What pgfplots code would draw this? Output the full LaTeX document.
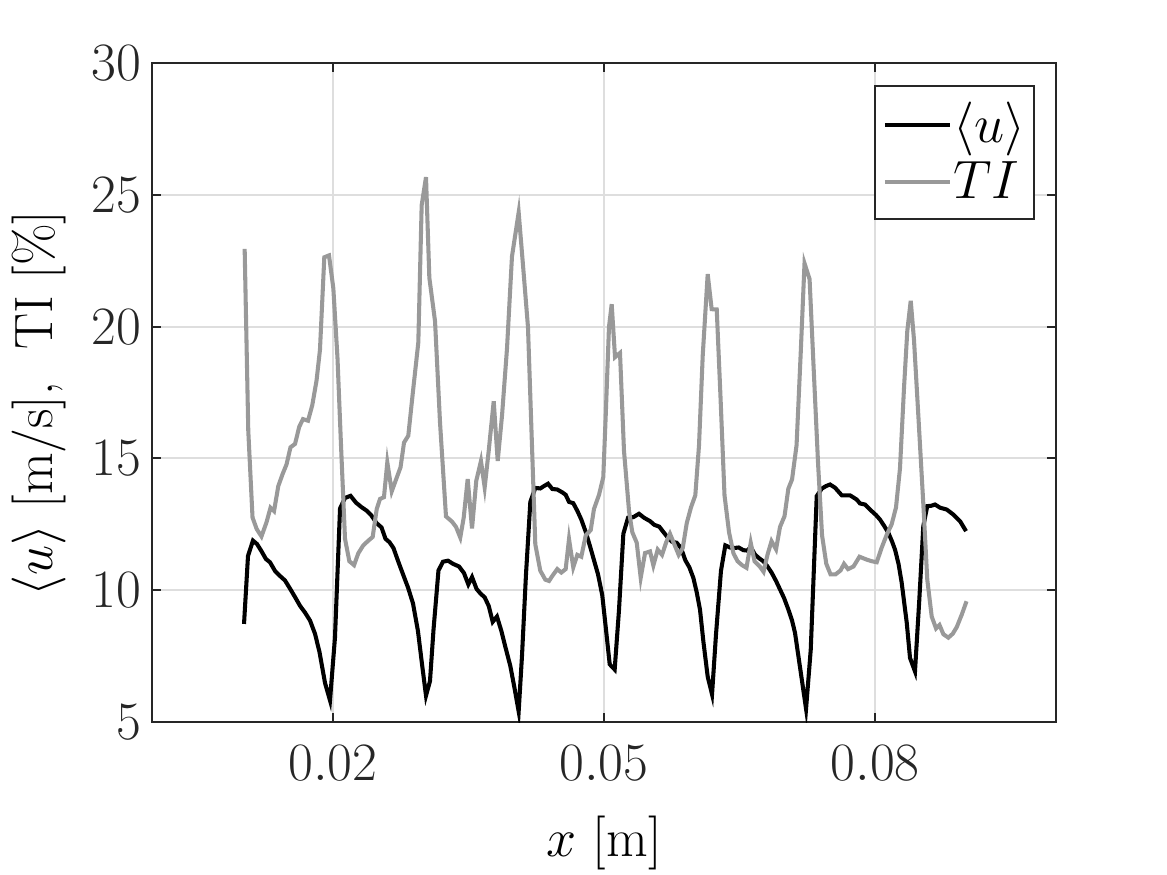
\documentclass[border=0pt]{standalone}
\usepackage{pgfplots}
\pgfplotsset{compat=1.18}
\definecolor{axisgray}{RGB}{38,38,38}
\definecolor{gridgray}{RGB}{222,222,222}
\definecolor{tigray}{RGB}{153,153,153}
\newcommand{\bigfont}{\fontsize{17.28}{20.7}\selectfont}
\begin{document}
\begin{tikzpicture}[font=\bigfont]
\path[use as bounding box] (-48.64pt,-48.96pt) rectangle (324.8pt,231.04pt);
\begin{axis}[
  at={(0pt,0pt)}, anchor=south west,
  scale only axis, width=289.28pt, height=210.88pt,
  xmin=0, xmax=0.1, ymin=5, ymax=30,
  xtick={0.02,0.05,0.08}, xticklabels={$0.02$,$0.05$,$0.08$},
  ytick={5,10,15,20,25,30},
  scaled x ticks=false,
  tick align=inside, tick pos=both, major tick length=2.9pt,
  axis line style={draw=axisgray, line width=0.65pt},
  tick style={draw=axisgray, line width=0.65pt},
  grid=major, major grid style={draw=gridgray, line width=0.65pt},
  tick label style={font=\bigfont, text=axisgray},
  xticklabel style={yshift=-4.2pt},
  label style={font=\bigfont, text=axisgray},
  every axis x label/.style={at={(axis description cs:0.5,-0.183)}, anchor=center},
  every axis y label/.style={at={(axis description cs:-0.125,0.483)}, anchor=center, rotate=90},
  xlabel={$x$ [m]},
  ylabel={$\langle u\rangle$ [m/s], \ TI [\%]},
  legend style={at={(0.977,0.9666)}, anchor=north east, draw=axisgray, line width=0.65pt,
    font=\bigfont, inner xsep=2.5pt, inner ysep=3pt,
    nodes={inner xsep=0.4pt, inner ysep=2.2pt}},
  legend cell align=left,
  legend image code/.code={\draw[#1] (0pt,0pt) -- (20.8pt,0pt);},
]
\addplot[black, line width=1.3pt] coordinates {
(0.01018,8.72) (0.01062,11.30) (0.01117,11.88) (0.01162,11.75) (0.01211,11.48)
(0.01261,11.18) (0.01305,11.06) (0.01361,10.73) (0.01416,10.54) (0.01471,10.37)
(0.01527,10.06) (0.01582,9.74) (0.01637,9.41) (0.01693,9.15) (0.01748,8.85)
(0.01803,8.35) (0.01853,7.65) (0.01914,6.48) (0.01969,5.82) (0.02024,8.20)
(0.02080,13.10) (0.02135,13.50) (0.02196,13.58) (0.02257,13.32) (0.02318,13.15)
(0.02373,13.02) (0.02428,12.83) (0.02483,12.55) (0.02539,12.38) (0.02583,11.95)
(0.02627,11.82) (0.02671,11.60) (0.02727,11.06) (0.02777,10.60) (0.02832,10.10)
(0.02887,9.50) (0.02942,8.45) (0.02983,7.30) (0.03031,6.00) (0.03075,6.55)
(0.03114,8.50) (0.03169,10.75) (0.03219,11.08) (0.03274,11.12) (0.03330,11.00)
(0.03396,10.90) (0.03451,10.65) (0.03499,10.22) (0.03540,10.50) (0.03590,10.05)
(0.03634,9.87) (0.03680,9.73) (0.03725,9.40) (0.03769,8.80) (0.03816,9.00)
(0.03864,8.46) (0.03908,7.86) (0.03964,7.12) (0.04012,6.25) (0.04056,5.40)
(0.04093,7.52) (0.04137,10.60) (0.04185,13.35) (0.04240,13.88) (0.04295,13.86)
(0.04336,13.95) (0.04381,14.04) (0.04428,13.84) (0.04483,13.82) (0.04539,13.71)
(0.04576,13.62) (0.04613,13.35) (0.04660,13.30) (0.04705,13.01) (0.04749,12.68)
(0.04798,12.21) (0.04845,11.67) (0.04889,11.14) (0.04934,10.60) (0.04981,9.80)
(0.05019,8.60) (0.05063,7.19) (0.05118,6.99) (0.05166,9.26) (0.05214,12.14)
(0.05266,12.75) (0.05324,12.77) (0.05387,12.90) (0.05442,12.75) (0.05509,12.62)
(0.05556,12.48) (0.05612,12.41) (0.05656,12.21) (0.05705,12.00) (0.05752,11.84)
(0.05804,11.80) (0.05852,11.60) (0.05899,11.14) (0.05944,10.87) (0.05988,10.47)
(0.06025,9.93) (0.06062,9.26) (0.06099,8.06) (0.06147,6.72) (0.06195,6.05)
(0.06239,8.33) (0.06294,10.74) (0.06342,11.70) (0.06394,11.62) (0.06441,11.60)
(0.06490,11.62) (0.06541,11.52) (0.06590,11.50) (0.06621,11.65) (0.06670,11.35)
(0.06720,11.20) (0.06762,11.10) (0.06809,10.90) (0.06855,10.66) (0.06903,10.35)
(0.06947,10.03) (0.06992,9.70) (0.07039,9.27) (0.07080,8.85) (0.07113,8.38)
(0.07146,7.60) (0.07180,6.80) (0.07235,5.50) (0.07287,7.75) (0.07353,13.57)
(0.07408,13.85) (0.07456,13.95) (0.07500,14.01) (0.07555,13.89) (0.07630,13.60)
(0.07677,13.60) (0.07721,13.60) (0.07795,13.44) (0.07832,13.29) (0.07887,13.25)
(0.07961,13.00) (0.08009,12.85) (0.08053,12.68) (0.08097,12.45) (0.08145,12.18)
(0.08186,11.85) (0.08219,11.54) (0.08258,11.00) (0.08293,10.28) (0.08349,8.76)
(0.08385,7.43) (0.08440,6.92) (0.08488,9.65) (0.08532,12.43) (0.08576,13.19)
(0.08617,13.20) (0.08662,13.25) (0.08717,13.13) (0.08791,13.06) (0.08864,12.87)
(0.08938,12.62) (0.09005,12.24)
};
\addlegendentry{$\langle u\rangle$}
\addplot[tigray, line width=1.3pt] coordinates {
(0.01025,22.95) (0.01065,16.05) (0.01112,12.76) (0.01158,12.32) (0.01211,12.04)
(0.01267,12.58) (0.01311,13.13) (0.01350,13.00) (0.01397,13.95) (0.01444,14.40)
(0.01488,14.77) (0.01532,15.42) (0.01582,15.55) (0.01629,16.20) (0.01670,16.49)
(0.01726,16.43) (0.01773,17.02) (0.01820,17.95) (0.01858,19.12) (0.01906,22.63)
(0.01958,22.70) (0.02006,21.45) (0.02052,18.80) (0.02091,15.48) (0.02135,11.95)
(0.02183,11.10) (0.02235,10.95) (0.02282,11.40) (0.02337,11.70) (0.02393,11.88)
(0.02441,12.02) (0.02486,13.08) (0.02522,13.46) (0.02566,13.53) (0.02603,14.85)
(0.02652,13.75) (0.02705,14.25) (0.02749,14.66) (0.02788,15.60) (0.02835,15.86)
(0.02884,17.45) (0.02946,19.40) (0.02983,24.60) (0.03031,25.67) (0.03068,21.85)
(0.03131,20.20) (0.03186,16.36) (0.03252,12.80) (0.03319,12.60) (0.03363,12.40)
(0.03410,12.00) (0.03448,12.75) (0.03492,14.22) (0.03540,12.34) (0.03587,14.15)
(0.03639,14.90) (0.03680,13.90) (0.03725,15.30) (0.03780,17.17) (0.03824,14.90)
(0.03872,16.63) (0.03927,19.17) (0.03982,22.66) (0.04056,24.33) (0.04112,21.99)
(0.04159,19.98) (0.04196,16.23) (0.04240,11.74) (0.04295,10.74) (0.04351,10.40)
(0.04392,10.35) (0.04428,10.54) (0.04483,10.80) (0.04528,10.67) (0.04576,10.80)
(0.04613,11.94) (0.04660,10.87) (0.04705,11.34) (0.04749,11.27) (0.04798,12.08)
(0.04853,12.28) (0.04889,13.08) (0.04945,13.62) (0.04992,14.29) (0.05019,16.63)
(0.05055,19.98) (0.05085,20.85) (0.05122,18.84) (0.05177,19.00) (0.05221,15.29)
(0.05277,13.00) (0.05313,12.20) (0.05362,11.80) (0.05406,10.47) (0.05454,11.41)
(0.05509,11.47) (0.05546,10.94) (0.05594,11.54) (0.05642,11.34) (0.05686,11.80)
(0.05730,12.14) (0.05778,11.74) (0.05826,11.34) (0.05871,11.60) (0.05915,12.54)
(0.05962,13.14) (0.06010,13.60) (0.06051,15.50) (0.06092,18.90) (0.06147,21.99)
(0.06191,20.66) (0.06247,20.65) (0.06289,17.30) (0.06333,13.60) (0.06383,12.20)
(0.06432,11.40) (0.06477,11.10) (0.06527,10.95) (0.06576,10.85) (0.06623,11.80)
(0.06665,11.10) (0.06723,10.90) (0.06765,10.70) (0.06809,11.35) (0.06853,11.86)
(0.06903,11.55) (0.06947,12.40) (0.06997,12.81) (0.07039,13.85) (0.07080,14.20)
(0.07130,15.50) (0.07176,19.00) (0.07218,22.40) (0.07274,21.80) (0.07318,18.50)
(0.07368,14.80) (0.07412,12.08) (0.07459,11.00) (0.07506,10.60) (0.07561,10.60)
(0.07617,10.75) (0.07655,11.00) (0.07699,10.80) (0.07760,10.90) (0.07826,11.27)
(0.07906,11.16) (0.07961,11.10) (0.08017,11.06) (0.08070,11.60) (0.08127,12.10)
(0.08182,12.50) (0.08230,13.14) (0.08274,14.62) (0.08319,17.70) (0.08355,19.84)
(0.08393,20.98) (0.08429,19.50) (0.08477,16.63) (0.08532,13.28) (0.08576,10.40)
(0.08625,9.00) (0.08673,8.55) (0.08711,8.68) (0.08754,8.33) (0.08809,8.20)
(0.08858,8.35) (0.08902,8.60) (0.08957,9.07) (0.09010,9.58)
};
\addlegendentry{$TI$}
\end{axis}
\end{tikzpicture}
\end{document}
